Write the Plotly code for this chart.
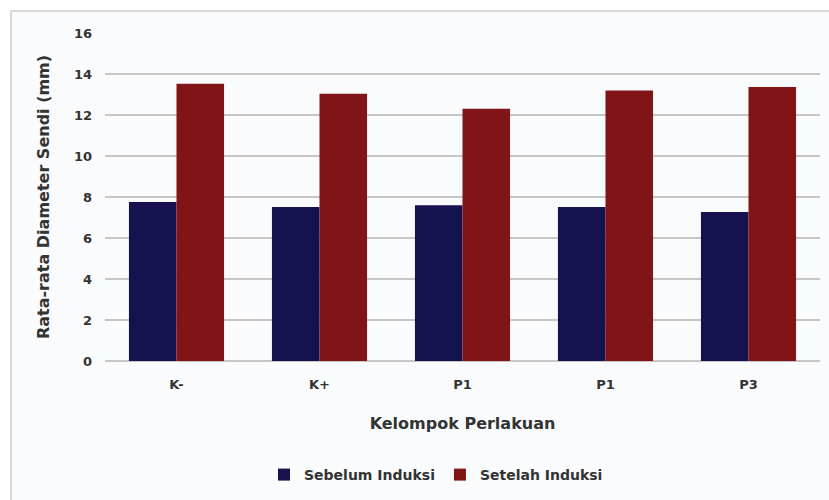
import plotly.graph_objects as go

categories = ["K-", "K+", "P1", "P1", "P3"]
sebelum = [7.76, 7.51, 7.60, 7.51, 7.27]
setelah = [13.53, 13.04, 12.31, 13.20, 13.37]
y_ticks = [0, 2, 4, 6, 8, 10, 12, 14, 16]

x_pos = list(range(len(categories)))

W, H = 829, 500
L, R, T, B = 105, 9, 33, 139
pw, ph = W - L - R, H - T - B

def px_x(px):
    return (px - L) / pw

def px_y(py):
    return (H - B - py) / ph

font_family = "DejaVu Sans, sans-serif"
txt = "#333333"

fig = go.Figure()
fig.add_trace(go.Bar(x=x_pos, y=sebelum, name="<b>Sebelum Induksi</b>",
                     marker=dict(color="#16114f", line=dict(width=0))))
fig.add_trace(go.Bar(x=x_pos, y=setelah, name="<b>Setelah Induksi</b>",
                     marker=dict(color="#801416", line=dict(width=0))))

fig.add_shape(type="rect", xref="paper", yref="paper", layer="below",
              x0=px_x(11), x1=px_x(840), y0=px_y(510), y1=px_y(11),
              line=dict(color="#d9d9d9", width=2), fillcolor="#f9fbfc")

fig.update_layout(
    width=W, height=H,
    margin=dict(l=L, r=R, t=T, b=B, autoexpand=False),
    paper_bgcolor="white",
    plot_bgcolor="rgba(0,0,0,0)",
    barmode="group",
    bargap=0.335,
    bargroupgap=0,
    font=dict(family=font_family, size=13, color=txt),
    showlegend=True,
    legend=dict(orientation="h", x=px_x(436), xanchor="center",
                y=px_y(475), yanchor="middle",
                font=dict(size=14, color=txt),
                bgcolor="rgba(0,0,0,0)", itemwidth=30, tracegroupgap=0),
    xaxis=dict(
        tickmode="array", tickvals=x_pos,
        ticktext=["<b>%s</b>" % c for c in categories],
        range=[-0.5, len(categories) - 0.5],
        showgrid=False, zeroline=False, showline=False,
        ticks="", ticklabelstandoff=14,
        tickfont=dict(size=13, color=txt),
        title=dict(text="<b>Kelompok Perlakuan</b>", standoff=26,
                   font=dict(size=16, color=txt)),
        automargin=False,
    ),
    yaxis=dict(
        range=[0, 16], tickmode="array", tickvals=y_ticks,
        ticktext=["<b>%d</b>" % v for v in y_ticks],
        showgrid=True, gridcolor="#c6c6c6", gridwidth=1.6,
        zeroline=True, zerolinecolor="#c6c6c6", zerolinewidth=1.6,
        showline=False, ticks="", ticklabelstandoff=12,
        tickfont=dict(size=13, color=txt),
        title=dict(text="<b>Rata-rata Diameter Sendi (mm)</b>", standoff=20,
                   font=dict(size=16, color=txt)),
        automargin=False,
    ),
)

fig.write_html("out.html")
